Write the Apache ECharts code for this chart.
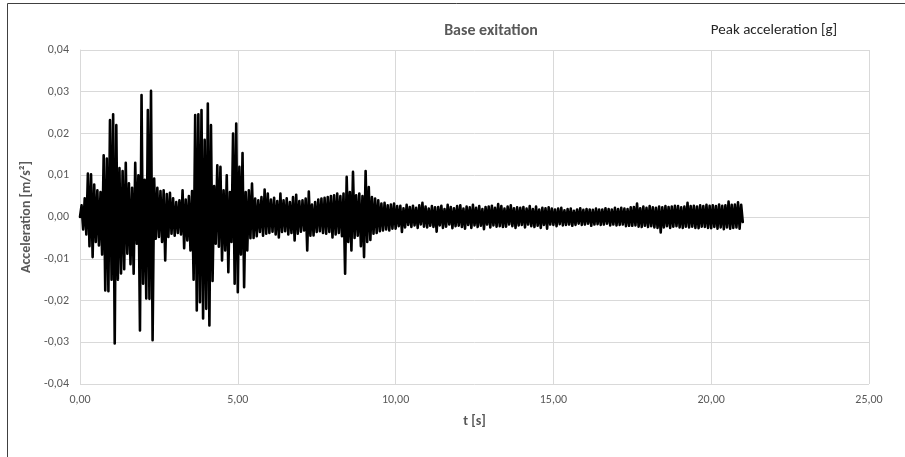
<!DOCTYPE html>
<html>
<head>
<meta charset="utf-8">
<script src="https://cdn.jsdelivr.net/npm/echarts@6/dist/echarts.min.js"></script>
<style>
html, body { margin: 0; padding: 0; background: #fff; }
#chart { width: 905px; height: 457px; }
</style>
</head>
<body>
<div id="chart"></div>
<script>
// sampling step of the record [s]
var dt = 0.05;

// acceleration [m/s2], one value every dt, from t = 0 to t = 21 s
var accel = [
	0.0000, 0.0028, -0.0030, 0.0045, -0.0042, 0.0104, -0.0070, 0.0102, -0.0096, 0.0078,
	-0.0060, 0.0064, -0.0068, 0.0060, -0.0090, 0.0148, -0.0176, 0.0140, -0.0178, 0.0232,
	-0.0150, 0.0246, -0.0303, 0.0220, -0.0150, 0.0117, -0.0135, 0.0110, -0.0125, 0.0130,
	-0.0088, 0.0081, -0.0113, 0.0070, -0.0136, 0.0130, -0.0064, 0.0100, -0.0272, 0.0292,
	-0.0160, 0.0089, -0.0195, 0.0256, -0.0196, 0.0302, -0.0295, 0.0092, -0.0052, 0.0070,
	-0.0048, 0.0062, -0.0060, 0.0064, -0.0104, 0.0055, -0.0048, 0.0058, -0.0040, 0.0045,
	-0.0045, 0.0036, -0.0038, 0.0040, -0.0042, 0.0064, -0.0075, 0.0042, -0.0056, 0.0050,
	-0.0080, 0.0062, -0.0150, 0.0244, -0.0224, 0.0246, -0.0204, 0.0256, -0.0243, 0.0185,
	-0.0220, 0.0272, -0.0260, 0.0220, -0.0153, 0.0074, -0.0064, 0.0124, -0.0071, 0.0120,
	-0.0104, 0.0064, -0.0080, 0.0100, -0.0132, 0.0060, -0.0060, 0.0200, -0.0160, 0.0224,
	-0.0180, 0.0120, -0.0090, 0.0153, -0.0168, 0.0060, -0.0080, 0.0064, -0.0051, 0.0080,
	-0.0050, 0.0044, -0.0046, 0.0040, -0.0036, 0.0048, -0.0045, 0.0066, -0.0040, 0.0056,
	-0.0038, 0.0042, -0.0035, 0.0046, -0.0042, 0.0038, -0.0049, 0.0056, -0.0036, 0.0040,
	-0.0034, 0.0045, -0.0042, 0.0036, -0.0038, 0.0048, -0.0056, 0.0053, -0.0040, 0.0038,
	-0.0035, 0.0040, -0.0032, 0.0044, -0.0080, 0.0061, -0.0045, 0.0030, -0.0044, 0.0036,
	-0.0036, 0.0042, -0.0034, 0.0044, -0.0038, 0.0046, -0.0040, 0.0048, -0.0036, 0.0050,
	-0.0049, 0.0052, -0.0042, 0.0056, -0.0038, 0.0050, -0.0046, 0.0056, -0.0136, 0.0096,
	-0.0060, 0.0060, -0.0080, 0.0108, -0.0050, 0.0052, -0.0045, 0.0056, -0.0070, 0.0050,
	-0.0096, 0.0110, -0.0060, 0.0072, -0.0055, 0.0048, -0.0040, 0.0044, -0.0038, 0.0040,
	-0.0034, 0.0032, -0.0032, 0.0034, -0.0030, 0.0028, -0.0032, 0.0030, -0.0028, 0.0032,
	-0.0028, 0.0026, -0.0022, 0.0027, -0.0036, 0.0021, -0.0025, 0.0029, -0.0019, 0.0024,
	-0.0024, 0.0027, -0.0020, 0.0022, -0.0026, 0.0028, -0.0018, 0.0034, -0.0023, 0.0025,
	-0.0025, 0.0020, -0.0021, 0.0026, -0.0024, 0.0023, -0.0035, 0.0024, -0.0020, 0.0027,
	-0.0026, 0.0019, -0.0023, 0.0029, -0.0018, 0.0024, -0.0027, 0.0021, -0.0022, 0.0026,
	-0.0021, 0.0028, -0.0024, 0.0020, -0.0028, 0.0025, -0.0019, 0.0023, -0.0026, 0.0029,
	-0.0020, 0.0022, -0.0024, 0.0026, -0.0021, 0.0019, -0.0029, 0.0024, -0.0018, 0.0025,
	-0.0025, 0.0027, -0.0020, 0.0022, -0.0023, 0.0031, -0.0022, 0.0026, -0.0024, 0.0020,
	-0.0023, 0.0025, -0.0018, 0.0028, -0.0022, 0.0021, -0.0026, 0.0023, -0.0020, 0.0022,
	-0.0019, 0.0024, -0.0025, 0.0020, -0.0018, 0.0026, -0.0022, 0.0019, -0.0024, 0.0025,
	-0.0021, 0.0018, -0.0026, 0.0022, -0.0019, 0.0021, -0.0028, 0.0023, -0.0018, 0.0020,
	-0.0019, 0.0018, -0.0022, 0.0020, -0.0017, 0.0022, -0.0020, 0.0016, -0.0019, 0.0019,
	-0.0018, 0.0020, -0.0021, 0.0015, -0.0019, 0.0018, -0.0016, 0.0021, -0.0019, 0.0017,
	-0.0018, 0.0019, -0.0016, 0.0018, -0.0021, 0.0017, -0.0018, 0.0020, -0.0017, 0.0018,
	-0.0019, 0.0018, -0.0018, 0.0021, -0.0016, 0.0019, -0.0020, 0.0018, -0.0018, 0.0022,
	-0.0020, 0.0019, -0.0019, 0.0022, -0.0018, 0.0020, -0.0022, 0.0019, -0.0021, 0.0023,
	-0.0021, 0.0024, -0.0020, 0.0032, -0.0023, 0.0021, -0.0024, 0.0025, -0.0021, 0.0022,
	-0.0024, 0.0026, -0.0022, 0.0023, -0.0025, 0.0022, -0.0026, 0.0025, -0.0037, 0.0023,
	-0.0025, 0.0026, -0.0022, 0.0024, -0.0026, 0.0025, -0.0023, 0.0027, -0.0022, 0.0026,
	-0.0025, 0.0023, -0.0026, 0.0025, -0.0023, 0.0034, -0.0025, 0.0026, -0.0023, 0.0027,
	-0.0026, 0.0025, -0.0027, 0.0028, -0.0023, 0.0026, -0.0024, 0.0029, -0.0026, 0.0027,
	-0.0027, 0.0028, -0.0024, 0.0026, -0.0028, 0.0030, -0.0025, 0.0027, -0.0029, 0.0028,
	-0.0025, 0.0037, -0.0028, 0.0029, -0.0026, 0.0030, -0.0025, 0.0035, -0.0028, 0.0029,
	-0.0012
];

// tick labels
var xTicks = [0, 5, 10, 15, 20, 25];
var xTickLabels = ['0,00', '5,00', '10,00', '15,00', '20,00', '25,00'];
var yTicks = [-0.04, -0.03, -0.02, -0.01, 0, 0.01, 0.02, 0.03, 0.04];
var yTickLabels = ['-0,04', '-0,03', '-0,02', '-0,01', '0,00', '0,01', '0,02', '0,03', '0,04'];

var font = 'Carlito, "Liberation Sans Narrow", "Liberation Sans", sans-serif';

function tickLabel(ticks, labels, v) {
	for (var i = 0; i < ticks.length; i++) {
		if (Math.abs(ticks[i] - v) < 1e-9) return labels[i];
	}
	return '';
}

var points = [];
for (var i = 0; i < accel.length; i++) {
	points.push([i * dt, accel[i]]);
}

var chart = echarts.init(document.getElementById('chart'));

var option = {
	animation: false,
	backgroundColor: '#fff',
	textStyle: { fontFamily: font },
	title: [{
		text: 'Base exitation',
		left: 486,
		top: 18,
		textAlign: 'center',
		textStyle: { color: '#595959', fontSize: 16, fontWeight: 'bold', fontFamily: font }
	}, {
		text: 'Peak acceleration [g]',
		left: 769,
		top: 18,
		textAlign: 'center',
		textStyle: { color: '#262626', fontSize: 15, fontWeight: 'normal', fontFamily: font }
	}],
	graphic: [{
		type: 'rect',
		silent: true,
		shape: { x: 7.5, y: 3.5, width: 1000, height: 1000 },
		style: { fill: 'none', stroke: '#404040', lineWidth: 1 }
	}],
	grid: { left: 80, right: 36, top: 50, bottom: 73 },
	xAxis: {
		type: 'value',
		min: 0,
		max: 25,
		interval: 5,
		name: 't [s]',
		nameLocation: 'middle',
		nameGap: 30,
		nameTextStyle: { color: '#595959', fontSize: 14, fontWeight: 'bold', fontFamily: font },
		axisLine: { show: true, lineStyle: { color: '#d9d9d9', width: 1 } },
		axisTick: { show: false },
		axisLabel: {
			color: '#595959',
			fontSize: 12,
			margin: 10,
			formatter: function (v) { return tickLabel(xTicks, xTickLabels, v); }
		},
		splitLine: { show: true, lineStyle: { color: '#d9d9d9', width: 1 } }
	},
	yAxis: {
		type: 'value',
		min: -0.04,
		max: 0.04,
		interval: 0.01,
		name: 'Acceleration [m/s²]',
		nameLocation: 'middle',
		nameGap: 43,
		nameTextStyle: { color: '#595959', fontSize: 14, fontWeight: 'bold', fontFamily: font },
		axisLine: { show: true, lineStyle: { color: '#d9d9d9', width: 1 } },
		axisTick: { show: false },
		axisLabel: {
			color: '#595959',
			fontSize: 12,
			margin: 11,
			formatter: function (v) { return tickLabel(yTicks, yTickLabels, v); }
		},
		splitLine: { show: true, lineStyle: { color: '#d9d9d9', width: 1 } }
	},
	series: [{
		name: 'Base exitation',
		type: 'line',
		data: points,
		showSymbol: false,
		symbol: 'none',
		sampling: null,
		lineStyle: { color: '#000', width: 2.6, join: 'round', cap: 'round' },
		z: 3
	}]
};

chart.setOption(option);
</script>
</body>
</html>
